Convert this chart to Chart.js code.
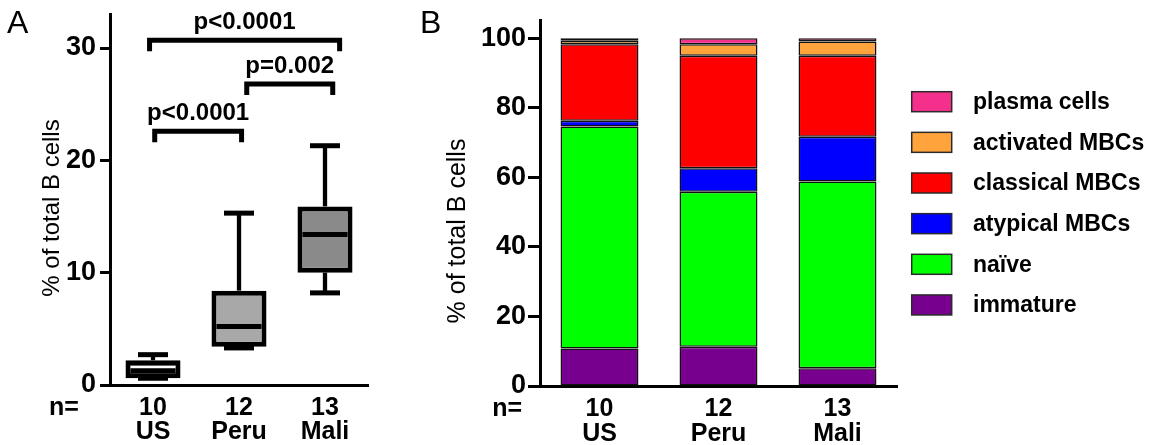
<!DOCTYPE html>
<html><head><meta charset="utf-8">
<script src="https://cdn.jsdelivr.net/npm/chart.js@4.4.1/dist/chart.umd.min.js"></script>
<style>
html,body{margin:0;padding:0;background:#fff;width:1156px;height:445px;overflow:hidden;}
#wrapA{position:absolute;left:0;top:0;width:380px;height:445px;}
#wrapB{position:absolute;left:380px;top:0;width:776px;height:445px;}
</style></head><body>
<div id="wrapA"><canvas id="cA"></canvas></div>
<div id="wrapB"><canvas id="cB"></canvas></div>
<script>
// ---------- data ----------
const categories = [['10','US'],['12','Peru'],['13','Mali']];
// Panel A: box plot (% of total B cells)
const boxMin    = [0.6, 3.3, 8.2];
const boxQ1     = [0.6, 3.4, 10.0];
const boxMedian = [1.6, 5.2, 13.4];
const boxQ3     = [2.2, 8.4, 15.9];
const boxMax    = [2.7, 15.3, 21.3];
const yTicksA   = [0, 10, 20, 30];
// significance brackets (category index positions, value level)
const pLabels = ['p<0.0001', 'p=0.002', 'p<0.0001'];
const pFrom   = [-0.04, 1.09, 0.02];
const pTo     = [2.17, 2.09, 1.03];
const pLevel  = [30.7, 26.8, 22.6];
// Panel B: stacked composition
const cellTypes = ['immature', 'naïve', 'atypical MBCs', 'classical MBCs', 'activated MBCs', 'plasma cells'];
const immature  = [10.8, 11.3, 5.1];
const naive     = [63.8, 44.6, 53.7];
const atypical  = [1.7, 6.7, 12.9];
const classical = [22.0, 32.4, 23.3];
const activated = [1.0, 3.3, 4.1];
const plasma    = [0.7, 1.7, 0.9];
const yTicksB   = [0, 20, 40, 60, 80, 100];

// ---------- styles ----------
const FONT = "'Liberation Sans', Arial, Helvetica, sans-serif";
Chart.defaults.font.family = FONT;
Chart.defaults.color = '#000';
const boxFills = ['#000000', '#a8a8a8', '#8a8a8a'];
const medianColors = ['#ffffff', '#000000', '#000000'];
const colorsB = ['#78008f', '#00ff00', '#0000ff', '#ff0000', '#ffa43c', '#f5308c'];

function txt(ctx, s, x, y, font, align, baseline, rot) {
  ctx.save();
  ctx.font = font; ctx.fillStyle = '#000';
  ctx.textAlign = align || 'left'; ctx.textBaseline = baseline || 'middle';
  ctx.translate(x, y);
  if (rot) ctx.rotate(rot);
  ctx.fillText(s, 0, 0);
  ctx.restore();
}

const boxPlugin = {
  id: 'boxWhiskers',
  afterDatasetsDraw(chart) {
    const {ctx} = chart; const x = chart.scales.x, y = chart.scales.y;
    const meta = chart.getDatasetMeta(0);
    ctx.save();
    ctx.strokeStyle = '#000'; ctx.lineCap = 'butt';
    meta.data.forEach((bar, i) => {
      const cx = bar.x, capHalf = 15;
      ctx.strokeStyle = '#000';
      ctx.lineWidth = 4.3;
      ctx.beginPath(); ctx.moveTo(cx, y.getPixelForValue(boxQ3[i])); ctx.lineTo(cx, y.getPixelForValue(boxMax[i])); ctx.stroke();
      ctx.beginPath(); ctx.moveTo(cx, y.getPixelForValue(boxQ1[i])); ctx.lineTo(cx, y.getPixelForValue(boxMin[i])); ctx.stroke();
      ctx.lineWidth = 5;
      [boxMax[i], boxMin[i]].forEach(v => {
        const py = y.getPixelForValue(v);
        ctx.beginPath(); ctx.moveTo(cx - capHalf, py); ctx.lineTo(cx + capHalf, py); ctx.stroke();
      });
      const half = bar.width / 2 - 5;
      const pm = y.getPixelForValue(boxMedian[i]);
      ctx.strokeStyle = medianColors[i];
      ctx.lineWidth = i === 0 ? 2.5 : 5;
      ctx.beginPath(); ctx.moveTo(cx - half, pm); ctx.lineTo(cx + half, pm); ctx.stroke();
    });
    // brackets
    ctx.strokeStyle = '#000'; ctx.lineWidth = 5; ctx.lineJoin = 'miter';
    pLabels.forEach((lab, i) => {
      const x1 = x.getPixelForValue(pFrom[i]), x2 = x.getPixelForValue(pTo[i]);
      const py = y.getPixelForValue(pLevel[i]);
      ctx.beginPath();
      ctx.moveTo(x1, py + 11); ctx.lineTo(x1, py); ctx.lineTo(x2, py); ctx.lineTo(x2, py + 11);
      ctx.stroke();
      txt(ctx, lab, (x1 + x2) / 2, py - 18, 'bold 24px ' + FONT, 'center', 'middle');
    });
    ctx.restore();
    // texts
    txt(ctx, 'A', 7, 33, '32px ' + FONT, 'left', 'alphabetic');
    txt(ctx, '% of total B cells', 52, 208, '24px ' + FONT, 'center', 'middle', -Math.PI / 2);
    txt(ctx, 'n=', 49, 408, 'bold 25px ' + FONT, 'left', 'middle');
  }
};

new Chart(document.getElementById('cA'), {
  type: 'bar',
  data: {
    labels: categories,
    datasets: [{
      data: boxQ1.map((q, i) => [q, boxQ3[i]]),
      backgroundColor: boxFills, borderColor: '#000', borderWidth: 5, borderSkipped: false,
      barPercentage: 0.64, categoryPercentage: 1
    }]
  },
  options: {
    responsive: true, maintainAspectRatio: false, animation: false, devicePixelRatio: 1,
    layout: {padding: {left: 0, right: 12, top: 14.3, bottom: 0}},
    plugins: {legend: {display: false}, tooltip: {enabled: false}},
    scales: {
      x: {
        grid: {display: false, drawTicks: false},
        border: {display: true, color: '#000', width: 3},
        ticks: {font: {size: 25, weight: 'bold', lineHeight: 0.97}, padding: 11, color: '#000', maxRotation: 0, autoSkip: false},
        afterFit: s => { s.height = 60; s.paddingLeft = 0; s.paddingRight = 0; }
      },
      y: {
        min: 0, max: 33, bounds: 'data',
        grid: {display: true, drawOnChartArea: false, drawTicks: true, tickLength: 10, tickWidth: 3, tickColor: '#000'},
        border: {display: true, color: '#000', width: 3},
        ticks: {font: {size: 27, weight: 'bold'}, padding: 4, color: '#000'},
        afterBuildTicks: s => { s.ticks = yTicksA.map(v => ({value: v})); },
        afterFit: s => { s.width = 110; s.paddingTop = 0; s.paddingBottom = 0; }
      }
    }
  },
  plugins: [boxPlugin]
});

const OFFB = 380;
const legendPlugin = {
  id: 'legendB',
  afterDraw(chart) {
    const {ctx} = chart;
    const n = cellTypes.length;
    for (let k = 0; k < n; k++) {
      const i = n - 1 - k;
      const cy = 101.7 + k * 40.65;
      ctx.save();
      ctx.fillStyle = colorsB[i]; ctx.strokeStyle = '#2a2a2a'; ctx.lineWidth = 1.5;
      ctx.fillRect(911.7 - OFFB, cy - 10, 40, 20);
      ctx.strokeRect(911.7 - OFFB, cy - 10, 40, 20);
      ctx.restore();
      txt(ctx, cellTypes[i], 973 - OFFB, cy + 1, 'bold 23px ' + FONT, 'left', 'middle');
    }
    txt(ctx, 'B', 420 - OFFB, 33, '32px ' + FONT, 'left', 'alphabetic');
    txt(ctx, '% of total B cells', 458 - OFFB, 231, '25px ' + FONT, 'center', 'middle', -Math.PI / 2);
    txt(ctx, 'n=', 522 - OFFB, 409, 'bold 25px ' + FONT, 'right', 'middle');
  }
};

const seriesB = [immature, naive, atypical, classical, activated, plasma];
new Chart(document.getElementById('cB'), {
  type: 'bar',
  data: {
    labels: categories,
    datasets: seriesB.map((d, i) => ({
      label: cellTypes[i], data: d, backgroundColor: colorsB[i],
      borderColor: '#111111', borderWidth: 1.5, borderSkipped: false,
      barPercentage: 0.655, categoryPercentage: 1
    }))
  },
  options: {
    responsive: true, maintainAspectRatio: false, animation: false, devicePixelRatio: 1,
    layout: {padding: {left: 0, right: 259, top: 20.9, bottom: 0}},
    plugins: {legend: {display: false}, tooltip: {enabled: false}},
    scales: {
      x: {
        stacked: true,
        grid: {display: false, drawTicks: false},
        border: {display: true, color: '#000', width: 3},
        ticks: {font: {size: 25, weight: 'bold', lineHeight: 1.0}, padding: 10.5, color: '#000', maxRotation: 0, autoSkip: false},
        afterFit: s => { s.height = 59; s.paddingLeft = 0; s.paddingRight = 0; }
      },
      y: {
        stacked: true, min: 0, max: 105, bounds: 'data',
        grid: {display: true, drawOnChartArea: false, drawTicks: true, tickLength: 12, tickWidth: 3, tickColor: '#000'},
        border: {display: true, color: '#000', width: 3},
        ticks: {font: {size: 27, weight: 'bold'}, padding: 2, color: '#000'},
        afterBuildTicks: s => { s.ticks = yTicksB.map(v => ({value: v})); },
        afterFit: s => { s.width = 160; s.paddingTop = 0; s.paddingBottom = 0; }
      }
    }
  },
  plugins: [legendPlugin]
});
</script>
</body></html>
